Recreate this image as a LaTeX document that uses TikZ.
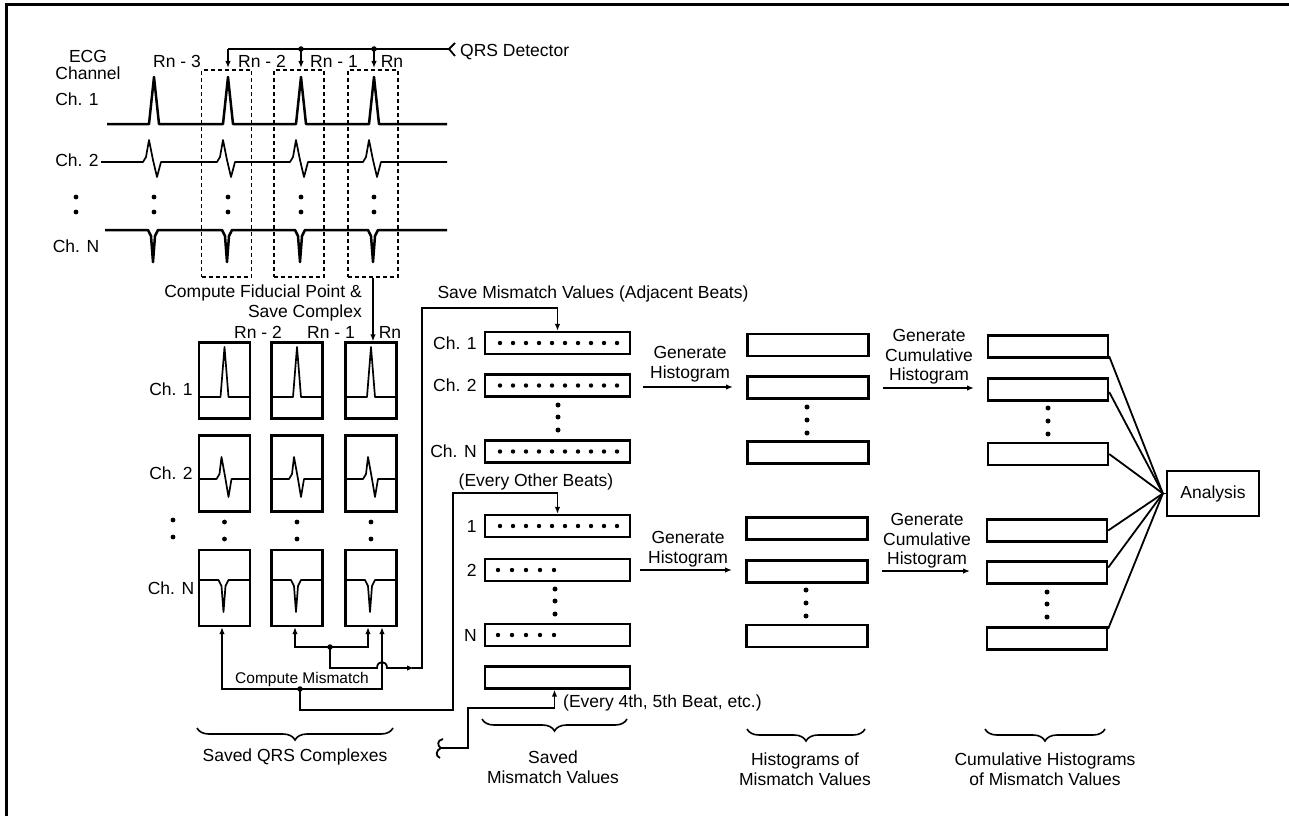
\documentclass[tikz,border=0pt]{standalone}
\usepackage{fontspec}
\setmainfont{Liberation Sans}
\usetikzlibrary{arrows.meta,decorations.pathreplacing,calc}
\begin{document}
\begin{tikzpicture}[x=1pt,y=-1pt,
  every node/.style={font=\fontsize{17.5}{19.5}\selectfont, inner sep=0pt},
  txt/.style={align=center},
  qbox/.style={draw, line width=2.3pt, minimum width=51pt, minimum height=76pt},
  dbox/.style={draw, line width=1.7pt, dash pattern=on 4pt off 3pt, minimum width=50pt, minimum height=207pt},
  mbox/.style={draw, line width=2.3pt, minimum width=145pt, minimum height=22pt},
  hbox/.style={draw, line width=2.3pt, minimum width=121pt, minimum height=22pt},
  cbox/.style={draw, line width=2.3pt, minimum width=120pt, minimum height=22pt},
  wire/.style={line width=1.8pt},
  arr/.style={wire, -{Latex[length=7pt,width=5.5pt]}},
  sig/.style={line width=1.7pt, line join=round},
  jdot/.style={circle, fill, inner sep=0pt, minimum size=5.5pt},
  brc/.style={decorate, decoration={brace, mirror, amplitude=12pt}, line width=1.6pt},
]
\useasboundingbox (0,0) rectangle (1289,816);
\fill[white] (0,0) rectangle (1289,816);
% frame
\draw[line width=3pt] (6,816) -- (6,5) -- (1289,5);

% ---------- top: ECG channels ----------
\node[txt] (ecg) at (88,65) {ECG\\[-2pt]Channel};
\node (l1) at (77,99) {Ch. 1};
\node (l2) at (77,160) {Ch. 2};
\node (lN) at (76,246) {Ch. N};
\foreach \y in {197,212} \fill (76,\y) circle (2.4);

\node (rn3) at (177,61) {Rn - 3};
\node (rn2) at (262,61) {Rn - 2};
\node (rn1) at (334,61) {Rn - 1};
\node (rn0) at (392,61) {Rn};

\node[dbox] (db1) at (226.5,173.5) {};
\node[dbox] (db2) at (299,173.5) {};
\node[dbox] (db3) at (373,173.5) {};

\draw[line width=2.5pt, line join=round] (107,124) foreach \x in {154,228,301,374} { -- (\x-5,124) -- (\x,77) -- (\x+5,124) } -- (447,124);
\draw[sig] (101,162) foreach \x in {154,228,301,374} { -- (\x-11,162) -- (\x-8,157) -- (\x-5,140) -- (\x-1,160) -- (\x+3,177) -- (\x+7,162) } -- (447,162);
\draw[line width=2.5pt, line join=round] (105,230) foreach \x in {154,228,301,374} { -- (\x-6,230) -- (\x-3,236) -- (\x-1,262) -- (\x+1,236) -- (\x+4,230) } -- (447,230);
\foreach \x in {154,228,301,374} { \fill (\x,197) circle (2.4); \fill (\x,212) circle (2.4); }

% QRS detector
\node[anchor=west] (qrs) at (460,52) {QRS Detector};
\coordinate (qin) at (449,49);
\draw[wire] (455,43) -- (qin) -- (455,56);
\coordinate (tap1) at (228,49);
\coordinate (tap2) at (301,49);
\coordinate (tap3) at (374,49);
\draw[wire] (qin) -- (tap1);
\draw[arr] (tap1) -- (228,68);
\draw[arr] (tap2) -- (301,68);
\draw[arr] (tap3) -- (374,68);
\node[jdot] at (tap2) {};
\node[jdot] at (tap3) {};

\node[anchor=east, align=right] (cfp) at (362,303) {Compute Fiducial Point \&\\Save Complex};

% ---------- saved QRS complexes ----------
\node (lr2) at (258,332) {Rn - 2};
\node (lr1) at (331,332) {Rn - 1};
\node (lr0) at (390,332) {Rn};

\node[qbox] (q11) at (224.5,380.5) {};
\node[qbox] (q12) at (297,380.5) {};
\node[qbox] (q13) at (371,380.5) {};
\node[qbox] (q21) at (224.5,473.5) {};
\node[qbox] (q22) at (297,473.5) {};
\node[qbox] (q23) at (371,473.5) {};
\node[qbox] (q31) at (224.5,588) {};
\node[qbox] (q32) at (297,588) {};
\node[qbox] (q33) at (371,588) {};

\draw[arr] (db3.south) -- (db3.south |- q13.north);

\foreach \c in {224.5,297,371} {
  \draw[sig] (\c-25.5,397) -- (\c-4,397) -- (\c,347) -- (\c+4,397) -- (\c+25.5,397);
  \draw[sig] (\c-25.5,479) -- (\c-8,479) -- (\c-5,474) -- (\c-3,457) -- (\c+1,479) -- (\c+4,497) -- (\c+7,479) -- (\c+25.5,479);
  \draw[sig] (\c-25.5,580) -- (\c-6,580) -- (\c-3,586) -- (\c-1,612) -- (\c+1,586) -- (\c+4,580) -- (\c+25.5,580);
  \fill (\c,522) circle (2.4);
  \fill (\c,539) circle (2.4);
}
\node (ql1) at (171,389) {Ch. 1};
\node (ql2) at (171,473) {Ch. 2};
\node (qlN) at (171,588) {Ch. N};
\foreach \y in {520,537} \fill (173,\y) circle (2.4);

% ---------- saved mismatch values ----------
\node (smv) at (593,294) {Save Mismatch Values (Adjacent Beats)};
\node[mbox] (m1) at (557.5,343) {};
\node[mbox] (m2) at (557.5,385.5) {};
\node[mbox] (mN) at (557.5,451.5) {};
\node[anchor=east] at ($(m1.west)+(-7,0)$) {Ch. 1};
\node[anchor=east] at ($(m2.west)+(-7,0)$) {Ch. 2};
\node[anchor=east] at ($(mN.west)+(-7,0)$) {Ch. N};
\foreach \i in {0,...,9} {
  \fill (500+13*\i,343) circle (2.2);
  \fill (500+13*\i,385.5) circle (2.2);
  \fill (500+13*\i,451.5) circle (2.2);
}
\foreach \y in {405,417,430} \fill (558,\y) circle (2.5);
\node (eob) at (536,482) {(Every Other Beats)};

\node[mbox] (e1) at (557.5,526) {};
\node[mbox] (e2) at (557.5,570) {};
\node[mbox] (eN) at (557.5,635) {};
\node[mbox] (e4) at (557.5,677.5) {};
\node[anchor=east] at ($(e1.west)+(-7,0)$) {1};
\node[anchor=east] at ($(e2.west)+(-7,0)$) {2};
\node[anchor=east] at ($(eN.west)+(-7,0)$) {N};
\foreach \i in {0,...,9} \fill (500+13*\i,526) circle (2.2);
\foreach \i in {0,...,4} { \fill (498+14*\i,570) circle (2.2); \fill (498+14*\i,635) circle (2.2); }
\foreach \y in {589,601,614} \fill (555,\y) circle (2.5);

% compute mismatch wiring
\coordinate (ja) at (330,647);
\coordinate (jb) at (300,689);
\draw[arr] (ja) -| ($(q32.south)+(-2,0)$);
\draw[arr] (ja) -| ($(q33.south)+(-3,0)$);
\draw[arr] (jb) -| ($(q31.south)+(-2.5,0)$);
\draw[arr] (jb) -| ($(q33.south)+(11,0)$);
\node[jdot] at (ja) {};
\node[jdot] at (jb) {};
\draw[arr] (ja) -- (330,668) -- (377,668) .. controls (377,660) and (387,660) .. (387,668) -- (414,668);
\draw[arr] (412,668) -- (422,668) -- (422,308) -| (m1.north);
\draw[arr] (jb) -- (300,710) -| (453,493) -| (e1.north);
\node[font=\fontsize{15.5}{17}\selectfont] (cm) at (302,679) {Compute Mismatch};

\coordinate (brk) at (441,748);
\draw[wire] (443,739) .. controls (437,740) and (437,746) .. (brk) .. controls (436,750) and (435,756) .. (440,758);
\draw[arr] (brk) -- (468,748) -- (468,708) -| ($(e4.south)+(-3,0)$);
\node[anchor=west] (e45) at (563,703) {(Every 4th, 5th Beat, etc.)};

% ---------- histograms ----------
\node[txt] (gh1) at (690,364) {Generate\\Histogram};
\draw[arr] (643,387) -- (733,387);
\node[txt] (gh2) at (688,549) {Generate\\Histogram};
\draw[arr] (640,570) -- (732,570);

\node[hbox] (h1) at (808,345) {};
\node[hbox] (h2) at (808,387.5) {};
\node[hbox] (h3) at (808,452.5) {};
\node[hbox] (h4) at (807,528.5) {};
\node[hbox] (h5) at (807,571.5) {};
\node[hbox] (h6) at (807,636) {};
\foreach \y in {407,420,433} \fill (807,\y) circle (2.5);
\foreach \y in {590,603,616} \fill (806,\y) circle (2.5);

% ---------- cumulative histograms ----------
\node[txt] (gc1) at (929,357) {Generate\\Cumulative\\Histogram};
\draw[arr] (883,388) -- (974,388);
\node[txt] (gc2) at (927,541) {Generate\\Cumulative\\Histogram};
\draw[arr] (882,571) -- (970,571);

\node[cbox] (c1) at (1048,346.5) {};
\node[cbox] (c2) at (1048,389.5) {};
\node[cbox] (c3) at (1048,454) {};
\node[cbox] (c4) at (1047,530.5) {};
\node[cbox] (c5) at (1047,572.5) {};
\node[cbox] (c6) at (1047,638.5) {};
\foreach \y in {408,421,434} \fill (1048,\y) circle (2.5);
\foreach \y in {592,604,617} \fill (1047,\y) circle (2.5);

\node[draw, line width=2.3pt, minimum width=92pt, minimum height=45pt] (an) at (1213,493.5) {Analysis};
\coordinate (cv) at ($(an.west)+(-3,0)$);
\draw[wire] ($(c1.north east)!0.9!(c1.south east)$) -- (cv);
\draw[wire] ($(c2.north east)!0.6!(c2.south east)$) -- (cv);
\draw[wire] ($(c3.north east)!0.5!(c3.south east)$) -- (cv);
\draw[wire] ($(c4.north east)!0.5!(c4.south east)$) -- (cv);
\draw[wire] ($(c5.north east)!0.3!(c5.south east)$) -- (cv);
\draw[wire] ($(c6.north east)!0.1!(c6.south east)$) -- (cv);
\draw[wire] (cv) -- (an.west);

% ---------- braces ----------
\draw[brc] (197,728) -- (393,728);
\node (bq) at (295,757) {Saved QRS Complexes};
\draw[brc] (482,719) -- (627,719);
\node[txt] (bm) at (553,767) {Saved\\Mismatch Values};
\draw[brc] (747,729) -- (865,729);
\node[txt] (bh) at (805,769) {Histograms of\\Mismatch Values};
\draw[brc] (985,729) -- (1105,729);
\node[txt] (bc) at (1045,769) {Cumulative Histograms\\of Mismatch Values};
\end{tikzpicture}
\end{document}
